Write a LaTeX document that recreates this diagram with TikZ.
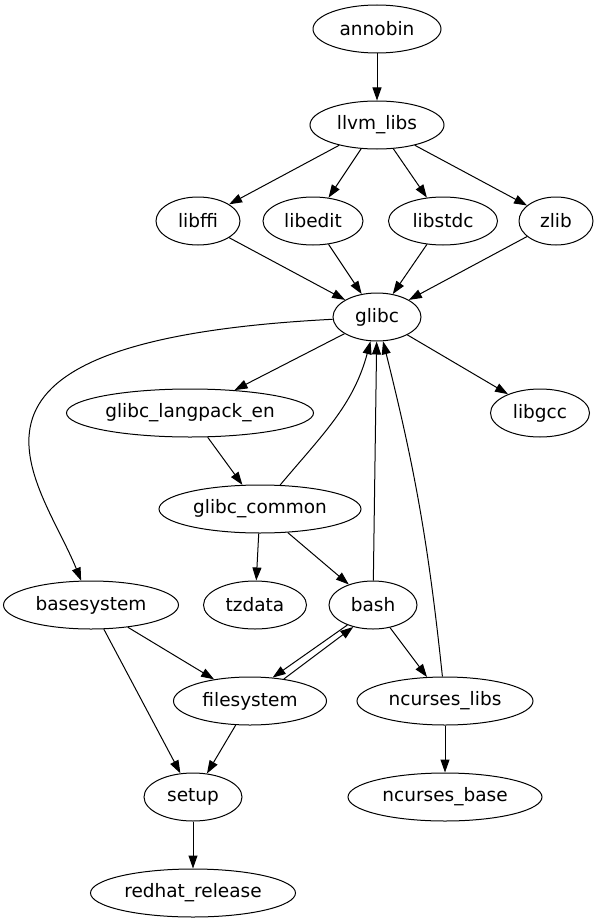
\documentclass[tikz,border=0pt]{standalone}
\usepackage{fontspec}
\setmainfont{DejaVu Sans}
\usetikzlibrary{positioning,shapes.geometric,arrows.meta}

\begin{document}
\begin{tikzpicture}[x=1pt, y=1pt, every node/.style={font=\fontsize{18.5}{22}\selectfont},
    pkg/.style={draw,ellipse,line width=1pt,inner sep=0pt,minimum height=48pt},
    dep/.style={->,line width=1pt}, >={Triangle[length=13pt,width=9pt]}]
  \useasboundingbox (0,0) rectangle (597,-923);
  \node[pkg,minimum width=128pt] (annobin) at (377,-29) {annobin};
  \node[pkg,minimum width=134pt,below=47pt of annobin] (llvm) {llvm\_libs};
  \node[pkg,minimum width=84pt] (ffi) at (198,-221) {libffi};
  \node[pkg,minimum width=100pt] (edit) at (313,-221) {libedit};
  \node[pkg,minimum width=109pt] (stdc) at (443,-221) {libstdc};
  \node[pkg,minimum width=74pt] (zlib) at (556,-221) {zlib};
  \node[pkg,minimum width=88pt] (glibc) at (377,-317) {glibc};
  \node[pkg,minimum width=247pt] (langpack) at (190,-413) {glibc\_langpack\_en};
  \node[pkg,minimum width=99pt] (gcc) at (540,-413) {libgcc};
  \node[pkg,minimum width=202pt] (common) at (260,-509) {glibc\_common};
  \node[pkg,minimum width=175pt] (base) at (91,-605) {basesystem};
  \node[pkg,minimum width=103pt] (tz) at (255,-605) {tzdata};
  \node[pkg,minimum width=88pt] (bash) at (373,-605) {bash};
  \node[pkg,minimum width=153pt] (fs) at (250,-701) {filesystem};
  \node[pkg,minimum width=176pt] (ncurses) at (445,-701) {ncurses\_libs};
  \node[pkg,minimum width=98pt] (setup) at (193,-797) {setup};
  \node[pkg,minimum width=194pt,below=47pt of ncurses] (ncbase) {ncurses\_base};
  \node[pkg,minimum width=205pt,below=47pt of setup] (redhat) {redhat\_release};
  \draw[dep] (annobin) -- (llvm);
  \draw[dep] (llvm) -- (ffi);
  \draw[dep] (llvm) -- (edit);
  \draw[dep] (llvm) -- (stdc);
  \draw[dep] (llvm) -- (zlib);
  \draw[dep] (ffi) -- (glibc);
  \draw[dep] (edit) -- (glibc);
  \draw[dep] (stdc) -- (glibc);
  \draw[dep] (zlib) -- (glibc);
  \draw[dep] (glibc) -- (langpack);
  \draw[dep] (glibc) -- (gcc);
  \draw[dep] (glibc) .. controls (-90,-341) and (40,-479) .. (base);
  \draw[dep] (langpack) -- (common);
  \draw[dep] (common) to[out=50,in=-105] (glibc);
  \draw[dep] (common) -- (tz);
  \draw[dep] (common) -- (bash);
  \draw[dep] (bash) -- (glibc);
  \draw[dep] (ncurses) to[bend right=4] (glibc);
  \draw[dep] (bash.218) -- (fs.46);
  \draw[dep] (fs.33) -- (bash.228);
  \draw[dep] (bash) -- (ncurses);
  \draw[dep] (base) -- (fs);
  \draw[dep] (base) -- (setup);
  \draw[dep] (fs) -- (setup);
  \draw[dep] (setup) -- (redhat);
  \draw[dep] (ncurses) -- (ncbase);
\end{tikzpicture}
\end{document}
